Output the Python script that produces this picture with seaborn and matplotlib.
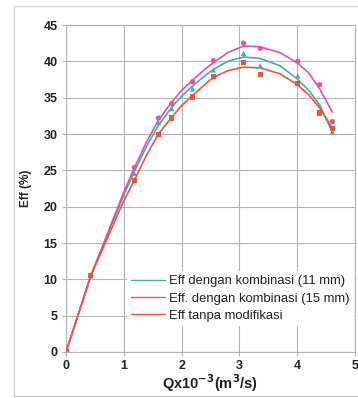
import matplotlib
matplotlib.use("Agg")
import matplotlib.pyplot as plt
import seaborn as sns
import pandas as pd
from matplotlib.patches import Rectangle

# measured points
x_pts = [0, 0.43, 1.18, 1.6, 1.83, 2.19, 2.55, 3.07, 3.36, 4.01, 4.39, 4.61]
eff_11 = [0, 10.5, 24.6, 31.6, 33.5, 36.2, 38.8, 41.1, 39.4, 38.0, 33.0, 30.3]
eff_15 = [0, 10.5, 25.4, 32.2, 34.2, 37.2, 40.1, 42.5, 41.8, 40.0, 36.8, 31.7]
eff_0 = [0, 10.5, 23.6, 29.9, 32.2, 35.1, 37.9, 39.8, 38.2, 37.0, 32.9, 30.8]

# trend curves
x_cur = [0, 0.43, 1.0, 1.18, 1.4, 1.6, 1.83, 2.0, 2.19, 2.4, 2.55, 2.8, 3.07, 3.36, 3.7, 4.0, 4.2, 4.39, 4.61]
cur_11 = [0, 10.5, 21.6, 24.8, 28.4, 31.2, 33.7, 35.2, 36.6, 38.0, 38.9, 40.0, 40.6, 40.4, 39.4, 37.6, 36.0, 34.0, 30.2]
cur_15 = [0, 10.5, 22.0, 25.3, 29.0, 31.9, 34.4, 36.0, 37.4, 38.9, 39.8, 41.2, 42.1, 42.0, 41.2, 39.8, 38.4, 36.2, 33.0]
cur_0 = [0, 10.5, 20.8, 23.6, 27.2, 30.0, 32.3, 33.9, 35.3, 36.8, 37.8, 38.7, 39.2, 39.1, 38.3, 36.8, 35.4, 33.6, 30.8]

labels = ["Eff dengan kombinasi (11 mm)", "Eff. dengan kombinasi (15 mm)", "Eff tanpa modifikasi"]
colors = ["#45a9b6", "#e4519f", "#f0553a"]
markers = ["^", "o", "s"]

sns.set_style("white")
plt.rcParams['font.family'] = ['Liberation Sans', 'DejaVu Sans']

fig = plt.figure(figsize=(3.58, 3.98), dpi=100)
ax = fig.add_axes([66/358, 1-352/398, 289/358, 327/398])

fig.patches.append(Rectangle((14/358, 1-396/398), 1.0, 390/398, transform=fig.transFigure,
                             fill=False, edgecolor="#d4d4d4", linewidth=1.0, zorder=0))

pts = [eff_11, eff_15, eff_0]
curs = [cur_11, cur_15, cur_0]
for lab, col, mk, p, c in zip(labels, colors, markers, pts, curs):
    dfc = pd.DataFrame({"x": x_cur, "y": c})
    sns.lineplot(data=dfc, x="x", y="y", ax=ax, color=col, linewidth=1.2, label=lab,
                 sort=False, estimator=None, zorder=3)
    dfp = pd.DataFrame({"x": x_pts, "y": p})
    sns.scatterplot(data=dfp, x="x", y="y", ax=ax, color=col, marker=mk, s=14,
                    edgecolor="none", zorder=4, legend=False)

ax.set_xlim(0, 5)
ax.set_ylim(0, 45)
ax.set_xticks(range(0, 6))
ax.set_yticks(range(0, 46, 5))
ax.grid(True, color="#b4b4b4", linewidth=0.8)
ax.set_axisbelow(True)
for s in ax.spines.values():
    s.set_color("#b4b4b4")
    s.set_linewidth(0.8)
ax.tick_params(axis="both", which="both", length=3, color="#b4b4b4", labelsize=9,
               pad=3, direction="out", bottom=True, left=True)
for t in ax.get_xticklabels() + ax.get_yticklabels():
    t.set_fontweight("bold")
    t.set_color("#222222")

ax.set_xlabel(r"Qx10$^{\mathbf{-3}}$(m$^{\mathbf{3}}$/s)", fontsize=10.5, fontweight="bold",
              color="#222222", labelpad=0)
ax.set_ylabel("Eff (%)", fontsize=8.5, fontweight="bold", color="#222222", labelpad=8)

leg = ax.legend(loc="lower right", bbox_to_anchor=(0.995, 0.08), frameon=True,
                fontsize=9.4, handlelength=2.6, handletextpad=0.3, labelspacing=0.4,
                borderpad=0.3, borderaxespad=0.0)
leg.get_frame().set_edgecolor("none")
leg.get_frame().set_facecolor("white")
leg.get_frame().set_alpha(1.0)
for line in leg.get_lines():
    line.set_linewidth(1.0)
for t in leg.get_texts():
    t.set_color("#222222")

fig.savefig("out.png", dpi=100)
